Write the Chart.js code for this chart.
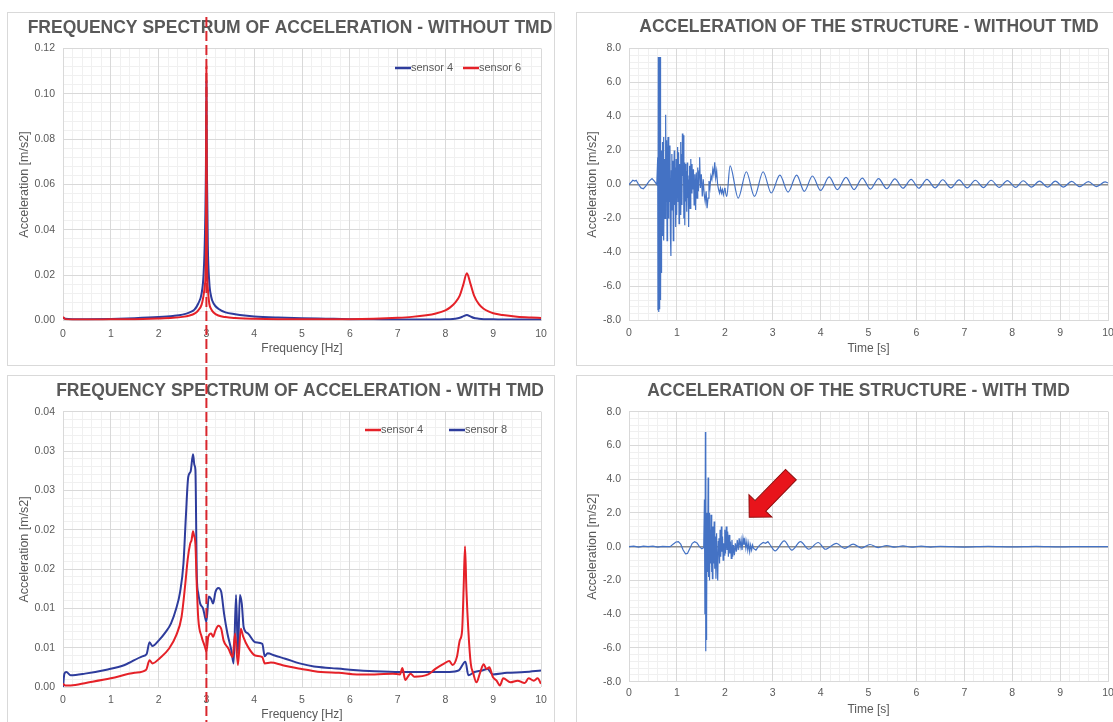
<!DOCTYPE html>
<html>
<head>
<meta charset="utf-8">
<script src="https://cdn.jsdelivr.net/npm/chart.js@4.4.1/dist/chart.umd.min.js"></script>
<style>
  html, body { margin: 0; padding: 0; background: #fff; overflow: hidden; }
  body { width: 1113px; height: 722px; position: relative; }
  .panel { position: absolute; border: 1px solid #d9d9d9; box-sizing: border-box; }
  canvas { position: absolute; }
</style>
</head>
<body>
<div class="panel" style="left:7px;top:12px;width:548px;height:354px"></div>
<div class="panel" style="left:576px;top:12px;width:560px;height:354px"></div>
<div class="panel" style="left:7px;top:375px;width:548px;height:360px"></div>
<div class="panel" style="left:576px;top:375px;width:560px;height:360px"></div>
<canvas id="specNoTmd" style="left:7px;top:12px" width="566" height="358"></canvas>
<canvas id="accNoTmd" style="left:576px;top:12px" width="586" height="354"></canvas>
<canvas id="specTmd" style="left:7px;top:370px" width="586" height="352"></canvas>
<canvas id="accTmd" style="left:576px;top:376px" width="565" height="346"></canvas>
<script>
// Frequency spectrum - without TMD
const freqNoTmd = [0, 0.05, 0.2, 0.5, 1.0, 1.5, 2.0, 2.3, 2.5, 2.65,
  2.75, 2.83, 2.9, 2.94, 2.97, 2.99, 3.0, 3.01, 3.03, 3.06,
  3.1, 3.15, 3.25, 3.4, 3.6, 3.8, 4.0, 4.5, 5.0, 5.5,
  6.0, 6.5, 7.0, 7.3, 7.6, 7.8, 8.0, 8.1, 8.2, 8.3,
  8.37, 8.45, 8.52, 8.6, 8.7, 8.8, 8.9, 9.0, 9.2, 9.5,
  9.8, 10];
const sensor4NoTmd = [0.0012, 0.0008, 0.0006, 0.0006, 0.0007, 0.001, 0.0015, 0.002, 0.0026, 0.0036,
  0.0048, 0.0075, 0.012, 0.02, 0.038, 0.068, 0.1055, 0.068, 0.033, 0.017,
  0.0105, 0.0075, 0.0052, 0.0036, 0.0028, 0.0022, 0.0018, 0.0013, 0.001, 0.0008,
  0.0006, 0.0005, 0.0004, 0.0004, 0.0004, 0.0004, 0.0005, 0.0006, 0.0008, 0.0012,
  0.0018, 0.0024, 0.0018, 0.0011, 0.0008, 0.0006, 0.0005, 0.0005, 0.0004, 0.0004,
  0.0004, 0.0004];
const sensor6NoTmd = [0.0015, 0.0006, 0.0004, 0.0004, 0.0005, 0.0006, 0.0009, 0.0012, 0.0016, 0.0022,
  0.003, 0.0045, 0.007, 0.011, 0.016, 0.03, 0.112, 0.03, 0.014, 0.0075,
  0.005, 0.0035, 0.0022, 0.0015, 0.0011, 0.0009, 0.0008, 0.0006, 0.0005, 0.0005,
  0.0006, 0.0008, 0.0012, 0.0016, 0.0023, 0.0031, 0.0045, 0.0058, 0.0078, 0.011,
  0.0155, 0.0208, 0.0165, 0.011, 0.0072, 0.0052, 0.004, 0.0032, 0.0024, 0.0017,
  0.0013, 0.0011];

// Frequency spectrum - with TMD
const freqTmdS4 = [0, 0.05, 0.16, 0.5, 1.0, 1.5, 1.74, 1.81, 1.87, 2.03,
  2.22, 2.37, 2.48, 2.56, 2.61, 2.66, 2.69, 2.72, 2.74, 2.77,
  2.8, 2.83, 2.9, 2.97, 3.0, 3.04, 3.1, 3.14, 3.19, 3.25,
  3.31, 3.36, 3.46, 3.55, 3.6, 3.66, 3.72, 3.77, 3.87, 4.02,
  4.17, 4.22, 4.35, 4.58, 4.8, 4.99, 5.18, 5.4, 5.77, 6.15,
  6.52, 6.9, 7.05, 7.1, 7.16, 7.27, 7.35, 7.64, 7.79, 7.98,
  8.08, 8.15, 8.24, 8.3, 8.35, 8.38, 8.41, 8.44, 8.48, 8.53,
  8.58, 8.65, 8.73, 8.8, 8.86, 8.92, 8.99, 9.07, 9.14, 9.21,
  9.36, 9.51, 9.66, 9.74, 9.85, 9.93, 10];
const sensor4Tmd = [0.0004, 0.0002, 0.0002, 0.00055, 0.0011, 0.0018, 0.0022, 0.0034, 0.003, 0.0037,
  0.0049, 0.0066, 0.0089, 0.0132, 0.0163, 0.0182, 0.0187, 0.0198, 0.0193, 0.0182,
  0.0127, 0.0087, 0.0064, 0.0051, 0.0045, 0.0064, 0.0068, 0.0064, 0.0072, 0.0078,
  0.0074, 0.0059, 0.0049, 0.0038, 0.0068, 0.0028, 0.0074, 0.0064, 0.0051, 0.004,
  0.0038, 0.003, 0.0031, 0.0028, 0.0025, 0.0023, 0.0021, 0.0019, 0.0018, 0.0016,
  0.0016, 0.0017, 0.0016, 0.0024, 0.0009, 0.0017, 0.0013, 0.0016, 0.0023, 0.003,
  0.0033, 0.0028, 0.0038, 0.0059, 0.0072, 0.0123, 0.0179, 0.0123, 0.0072, 0.003,
  0.0018, 0.0006, 0.0019, 0.0029, 0.0023, 0.0025, 0.0013, 0.0008, 0.0002, 0.0011,
  0.0006, 0.0008, 0.0005, 0.0011, 0.0008, 0.0011, 0.0004];
const freqTmdS8 = [0, 0.03, 0.07, 0.16, 0.46, 0.91, 1.29, 1.66, 1.75, 1.81,
  1.87, 2.0, 2.15, 2.26, 2.37, 2.45, 2.52, 2.57, 2.62, 2.67,
  2.72, 2.75, 2.77, 2.8, 2.83, 2.87, 2.93, 2.97, 3.0, 3.05,
  3.1, 3.14, 3.19, 3.25, 3.31, 3.37, 3.44, 3.52, 3.57, 3.62,
  3.66, 3.7, 3.74, 3.78, 3.87, 4.02, 4.17, 4.22, 4.28, 4.43,
  4.65, 4.95, 5.25, 5.62, 6.0, 6.52, 7.05, 7.64, 8.09, 8.28,
  8.39, 8.42, 8.48, 8.61, 8.77, 8.88, 8.99, 9.29, 9.66, 10];
const sensor8Tmd = [0, 0.0017, 0.0019, 0.0015, 0.0017, 0.0022, 0.0028, 0.0039, 0.0042, 0.0057,
  0.0052, 0.0059, 0.007, 0.0081, 0.01, 0.0121, 0.0157, 0.0216, 0.0267, 0.0274,
  0.0296, 0.0282, 0.0276, 0.014, 0.0119, 0.0106, 0.01, 0.0089, 0.0083, 0.0115,
  0.0112, 0.0106, 0.0121, 0.0126, 0.0121, 0.0093, 0.0068, 0.0047, 0.003, 0.0117,
  0.0042, 0.0117, 0.0106, 0.0076, 0.0068, 0.0057, 0.0055, 0.0039, 0.0043, 0.004,
  0.0036, 0.003, 0.0026, 0.0024, 0.0022, 0.002, 0.0019, 0.0019, 0.0019, 0.0021,
  0.0031, 0.0032, 0.0015, 0.0019, 0.0021, 0.0023, 0.0016, 0.0018, 0.0019, 0.0021];

// Acceleration of the structure - without TMD (impact burst, then free decay)
const timeBurstNoTmd = [0.00, 0.05, 0.08, 0.12, 0.15, 0.20, 0.25, 0.30, 0.35, 0.42,
  0.48, 0.53, 0.58, 0.600, 0.605, 0.612, 0.618, 0.625, 0.632, 0.640,
  0.648, 0.655, 0.662, 0.670, 0.676, 0.683, 0.690, 0.700, 0.710, 0.720,
  0.728, 0.740, 0.752, 0.765, 0.775, 0.785, 0.795, 0.805, 0.815, 0.825,
  0.835, 0.845, 0.855, 0.865, 0.875, 0.885, 0.895, 0.905, 0.915, 0.925,
  0.935, 0.945, 0.955, 0.965, 0.975, 0.985, 0.995, 1.005, 1.015, 1.025,
  1.035, 1.045, 1.055, 1.065, 1.075, 1.085, 1.095, 1.105, 1.115, 1.125,
  1.135, 1.145, 1.155, 1.165, 1.175, 1.185, 1.195, 1.205, 1.215, 1.225,
  1.235, 1.245, 1.255, 1.265, 1.275, 1.29, 1.30, 1.315, 1.33, 1.345,
  1.36, 1.375, 1.39, 1.405, 1.42, 1.435, 1.45, 1.465, 1.475, 1.49,
  1.51, 1.53, 1.55, 1.57, 1.59, 1.61, 1.63, 1.65, 1.67, 1.69,
  1.71, 1.73, 1.75, 1.77, 1.79, 1.81, 1.83, 1.85, 1.87, 1.89,
  1.91, 1.93, 1.95, 1.97, 2.00];
const accBurstNoTmd = [0.0, 0.15, 0.25, 0.2, 0.25, 0.0, -0.2, -0.25, -0.1, 0.2,
  0.35, 0.2, 0.0, 1.6, -7.4, 7.5, -7.5, 7.5, -7.3, 7.5,
  -5.0, 7.5, -6.8, 2.0, -5.2, 1.0, -3.0, 2.5, -1.8, 2.8,
  -3.3, 1.5, -2.0, 4.1, -1.0, 2.6, -3.3, 1.2, 2.8, -2.0,
  1.5, -1.0, 2.3, -3.0, -4.2, 0.8, 1.8, -1.5, 1.4, -3.3,
  0.5, 2.0, -1.2, 1.0, -2.5, 1.5, -1.8, 0.8, 2.2, -1.0,
  1.9, -2.3, 1.2, -0.5, 2.5, -1.8, 1.8, -1.2, 3.0, 0.5,
  2.9, -2.0, 1.3, -2.4, 1.2, -1.0, 0.8, -1.6, 1.3, -0.8,
  0.3, -2.5, 0.5, 1.1, -1.4, 1.5, -0.5, 1.2, -0.3, 0.9,
  -1.2, 0.6, -1.5, 0.7, -0.8, 1.0, -0.4, 0.8, 1.6, -0.2,
  0.6, -0.7, 0.3, -0.6, -1.0, -0.4, -1.4, -0.8, 0.2, -0.2,
  0.5, 0.3, 0.9, 0.6, 1.3, 0.4, 0.8, 0.0, -0.3, -0.5,
  -0.2, -0.5, -0.3, -0.6, -0.2];
const timeTailNoTmd = [2.00, 2.04, 2.11, 2.28, 2.45, 2.62, 2.80, 2.97, 3.15, 3.32,
  3.50, 3.66, 3.83, 4.00, 4.18, 4.35, 4.53, 4.70, 4.87, 5.04,
  5.21, 5.38, 5.55, 5.72, 5.89, 6.05, 6.22, 6.39, 6.55, 6.72,
  6.89, 7.06, 7.23, 7.40, 7.56, 7.73, 7.90, 8.07, 8.23, 8.40,
  8.57, 8.74, 8.90, 9.07, 9.24, 9.41, 9.59, 9.76, 9.94, 10.0];
const accTailNoTmd = [-0.2, -0.7, 1.1, -0.8, 0.75, -0.7, 0.75, -0.5, 0.55, -0.45,
  0.55, -0.4, 0.5, -0.35, 0.45, -0.3, 0.42, -0.3, 0.38, -0.27,
  0.35, -0.25, 0.33, -0.22, 0.3, -0.22, 0.3, -0.2, 0.28, -0.2,
  0.27, -0.2, 0.25, -0.18, 0.25, -0.17, 0.23, -0.17, 0.22, -0.15,
  0.2, -0.15, 0.2, -0.15, 0.18, -0.13, 0.17, -0.12, 0.15, 0.1];

// Acceleration of the structure - with TMD
const timeBurstTmd = [0.00, 0.10, 0.20, 0.30, 0.40, 0.50, 0.60, 0.70, 0.80, 0.86,
  0.92, 0.98, 1.03, 1.08, 1.13, 1.18, 1.22, 1.27, 1.32, 1.37,
  1.42, 1.47, 1.52, 1.56, 1.575, 1.585, 1.595, 1.600, 1.605, 1.612,
  1.620, 1.630, 1.640, 1.652, 1.662, 1.672, 1.682, 1.692, 1.702, 1.712,
  1.722, 1.732, 1.742, 1.752, 1.765, 1.778, 1.790, 1.802, 1.815, 1.828,
  1.840, 1.852, 1.865, 1.878, 1.890, 1.902, 1.915, 1.928, 1.940, 1.952,
  1.965, 1.978, 1.990, 2.000, 2.015, 2.030, 2.045, 2.060, 2.075, 2.090,
  2.105, 2.120, 2.135, 2.150, 2.165, 2.180, 2.200, 2.220, 2.240, 2.260,
  2.280, 2.300, 2.320, 2.340, 2.360, 2.380, 2.400, 2.420, 2.440, 2.460,
  2.480, 2.500, 2.520, 2.540, 2.560, 2.580, 2.600, 2.650, 2.700, 2.750,
  2.800, 2.850, 2.900, 2.950];
const accBurstTmd = [0.0, 0.03, -0.02, 0.03, 0.0, 0.03, -0.02, 0.02, 0.0, 0.0,
  0.15, 0.28, 0.3, 0.15, -0.2, -0.42, -0.4, -0.1, 0.2, 0.3,
  0.22, 0.0, -0.12, -0.05, 2.8, -4.0, 6.8, -6.2, 5.8, -5.5,
  -4.2, 2.0, -1.5, 4.1, -1.8, 2.0, -2.0, 1.0, -1.0, 1.9,
  -1.5, 0.8, -1.9, 1.2, -1.0, 1.5, -1.3, 0.6, -1.9, 0.8,
  -0.8, -2.0, 0.3, 0.5, -1.0, 1.0, -0.6, 1.2, -0.3, 0.6,
  -0.8, 0.2, -0.5, 1.0, -0.4, 1.2, -0.2, 0.9, -0.6, 0.7,
  -0.4, 0.3, -0.7, 0.4, -0.6, 0.1, -0.5, 0.2, -0.3, 0.4,
  -0.2, 0.5, 0.0, 0.4, -0.2, 0.5, 0.1, 0.4, -0.1, 0.3,
  -0.2, 0.2, -0.3, 0.1, -0.2, 0.1, -0.1, -0.2, 0.0, 0.15,
  0.25, 0.2, 0.3, 0.1];
const timeTailTmd = [2.95, 3.05, 3.24, 3.40, 3.58, 3.75, 3.95, 4.10, 4.33, 4.50,
  4.68, 4.85, 5.03, 5.20, 5.38, 5.55, 5.72, 5.90, 6.10, 6.30,
  6.50, 7.00, 7.50, 8.00, 8.50, 9.00, 9.50, 10.0];
const accTailTmd = [0.1, -0.25, 0.35, -0.2, 0.3, -0.15, 0.25, -0.15, 0.2, -0.1,
  0.15, -0.08, 0.13, -0.05, 0.07, -0.03, 0.05, -0.03, 0.03, -0.02,
  0.02, -0.02, 0.02, -0.01, 0.02, -0.01, 0.01, 0.0];

// arrow annotation (time [s], acceleration) on the "with TMD" record
const arrowFrom = [3.38, 4.27];
const arrowTo = [2.51, 1.74];

Chart.defaults.font.family = "'Liberation Sans', Arial, Helvetica, sans-serif";
Chart.defaults.color = '#595959';
Chart.defaults.animation = false;

const MAJOR = '#d9d9d9';
const MINOR = '#f0f0f0';
const BLUE = '#2e3c9c';
const RED = '#e52128';
const TRACE = '#4472c4';

function pairs(xs, ys) {
  return xs.map((x, i) => ({ x: x, y: ys[i] }));
}

function fixed(d) {
  const f = Math.pow(10, d);
  return v => (Math.round(v * f + 1e-9) / f).toFixed(d);
}

// red dashed marker at the natural frequency, runs over the whole panel
const freqMarker = {
  id: 'freqMarker',
  afterDraw(chart, args, opts) {
    const ctx = chart.ctx;
    const x = chart.scales.x.getPixelForValue(opts.value);
    ctx.save();
    ctx.strokeStyle = '#d9262d';
    ctx.lineWidth = 2;
    ctx.setLineDash([10, 4]);
    ctx.beginPath();
    ctx.moveTo(x, opts.from);
    ctx.lineTo(x, chart.height);
    ctx.stroke();
    ctx.restore();
  }
};

// legend drawn inside the plot area, like the original
const insideLegend = {
  id: 'insideLegend',
  afterDraw(chart, args, opts) {
    const ctx = chart.ctx;
    const area = chart.chartArea;
    ctx.save();
    ctx.font = "11px 'Liberation Sans', Arial, sans-serif";
    ctx.textBaseline = 'middle';
    chart.data.datasets.forEach((ds, i) => {
      const x = area.left + opts.left + i * opts.slot;
      const y = area.top + opts.top;
      ctx.strokeStyle = ds.borderColor;
      ctx.lineWidth = 2.5;
      ctx.beginPath();
      ctx.moveTo(x, y);
      ctx.lineTo(x + 16, y);
      ctx.stroke();
      ctx.fillStyle = '#595959';
      ctx.fillText(ds.label, x + 16, y);
    });
    ctx.restore();
  }
};

const arrowMark = {
  id: 'arrowMark',
  afterDatasetsDraw(chart, args, opts) {
    const ctx = chart.ctx;
    const sx = chart.scales.x, sy = chart.scales.y;
    const x0 = sx.getPixelForValue(opts.from[0]), y0 = sy.getPixelForValue(opts.from[1]);
    const x1 = sx.getPixelForValue(opts.to[0]), y1 = sy.getPixelForValue(opts.to[1]);
    const len = Math.hypot(x1 - x0, y1 - y0);
    const head = 16, half = 16, shaft = 7.5;
    ctx.save();
    ctx.translate(x0, y0);
    ctx.rotate(Math.atan2(y1 - y0, x1 - x0));
    ctx.beginPath();
    ctx.moveTo(0, -shaft);
    ctx.lineTo(len - head, -shaft);
    ctx.lineTo(len - head, -half);
    ctx.lineTo(len, 0);
    ctx.lineTo(len - head, half);
    ctx.lineTo(len - head, shaft);
    ctx.lineTo(0, shaft);
    ctx.closePath();
    ctx.fillStyle = '#e8141b';
    ctx.fill();
    ctx.strokeStyle = '#8e0c0c';
    ctx.lineWidth = 1;
    ctx.stroke();
    ctx.restore();
  }
};

function buildScales(p) {
  return {
    xMinor: {
      type: 'linear', position: 'bottom', min: 0, max: 10,
      ticks: { display: false, stepSize: 0.2, maxTicksLimit: 1000 },
      grid: { color: MINOR, drawTicks: false, z: -2 },
      border: { display: false },
      afterFit: s => { s.height = 0; }
    },
    yMinor: {
      type: 'linear', position: 'left', min: p.yMin, max: p.yMax,
      ticks: { display: false, stepSize: p.yStep / 5, maxTicksLimit: 1000 },
      grid: { color: MINOR, drawTicks: false, z: -2 },
      border: { display: false },
      afterFit: s => { s.width = 0; }
    },
    x: {
      type: 'linear', position: 'bottom', min: 0, max: 10,
      ticks: { stepSize: 1, autoSkip: false, maxRotation: 0, padding: p.xTickPad, font: { size: 10.5 } },
      grid: { color: MAJOR, drawTicks: false },
      border: { display: false },
      title: { display: true, text: p.xTitle, font: { size: 12 }, padding: { top: 0, bottom: p.xTitlePad } },
      afterFit: s => { s.height = p.xHeight; }
    },
    y: {
      type: 'linear', position: 'left', min: p.yMin, max: p.yMax,
      ticks: { stepSize: p.yStep, autoSkip: false, padding: 8, font: { size: 10.5 }, callback: fixed(p.dec) },
      grid: {
        drawTicks: false,
        color: ctx => (p.zeroLine && ctx.tick && Math.abs(ctx.tick.value) < 1e-9) ? '#8c8c8c' : MAJOR,
        lineWidth: ctx => (p.zeroLine && ctx.tick && Math.abs(ctx.tick.value) < 1e-9) ? 1.4 : 1
      },
      border: { display: false },
      title: { display: true, text: 'Acceleration [m/s2]', font: { size: 12.5 }, padding: { top: p.yTitlePad, bottom: 0 } },
      afterFit: s => { s.width = p.yWidth; }
    },
    pad: {
      type: 'linear', position: 'right', min: 0, max: 1,
      ticks: { display: false },
      grid: { display: false },
      border: { display: false },
      afterFit: s => { s.width = p.padRight; }
    }
  };
}

function titleOpts(text, top, bottom) {
  return {
    display: true, text: text, color: '#595959',
    font: { size: 17.5, weight: 'bold' },
    padding: { top: top, bottom: bottom }
  };
}

function specLine(label, xs, ys, color, order) {
  return {
    label: label, data: pairs(xs, ys), xAxisID: 'x', yAxisID: 'y',
    borderColor: color, backgroundColor: color, borderWidth: 2,
    pointRadius: 0, cubicInterpolationMode: 'monotone', order: order
  };
}

function traceLine(xs, ys, smooth) {
  return {
    label: '', data: pairs(xs, ys), xAxisID: 'x', yAxisID: 'y',
    borderColor: TRACE, borderWidth: 1.2, pointRadius: 0,
    tension: 0, cubicInterpolationMode: smooth ? 'monotone' : 'default'
  };
}

// top left
new Chart(document.getElementById('specNoTmd'), {
  type: 'line',
  data: {
    datasets: [
      specLine('sensor 4', freqNoTmd, sensor4NoTmd, BLUE, 1),
      specLine('sensor 6', freqNoTmd, sensor6NoTmd, RED, 0)
    ]
  },
  options: {
    responsive: false,
    layout: { padding: 0 },
    scales: buildScales({ yMin: 0, yMax: 0.12, yStep: 0.02, dec: 2, xTitle: 'Frequency [Hz]',
      xTickPad: 7, xTitlePad: 13.8, xHeight: 49.5, yWidth: 56, yTitlePad: 10.5, padRight: 32 }),
    plugins: {
      title: titleOpts('FREQUENCY SPECTRUM OF ACCELERATION - WITHOUT TMD', 6, 9.5),
      legend: { display: false },
      tooltip: { enabled: false },
      insideLegend: { left: 332, top: 19.5, slot: 68 },
      freqMarker: { value: 3, from: 5 }
    }
  },
  plugins: [insideLegend, freqMarker]
});

// top right
new Chart(document.getElementById('accNoTmd'), {
  type: 'line',
  data: {
    datasets: [
      traceLine(timeBurstNoTmd, accBurstNoTmd, false),
      traceLine(timeTailNoTmd, accTailNoTmd, true)
    ]
  },
  options: {
    responsive: false,
    layout: { padding: 0 },
    scales: buildScales({ yMin: -8, yMax: 8, yStep: 2, dec: 1, zeroLine: true, xTitle: 'Time [s]',
      xTickPad: 6.5, xTitlePad: 9.8, xHeight: 45.5, yWidth: 53, yTitlePad: 9, padRight: 54 }),
    plugins: {
      title: titleOpts('ACCELERATION OF THE STRUCTURE - WITHOUT TMD', 5, 10.5),
      legend: { display: false },
      tooltip: { enabled: false }
    }
  }
});

// bottom left
new Chart(document.getElementById('specTmd'), {
  type: 'line',
  data: {
    datasets: [
      specLine('sensor 4', freqTmdS4, sensor4Tmd, RED, 0),
      specLine('sensor 8', freqTmdS8, sensor8Tmd, BLUE, 1)
    ]
  },
  options: {
    responsive: false,
    layout: { padding: 0 },
    scales: buildScales({ yMin: 0, yMax: 0.035, yStep: 0.005, dec: 2, xTitle: 'Frequency [Hz]',
      xTickPad: 6.7, xTitlePad: 0, xHeight: 35, yWidth: 56, yTitlePad: 10.5, padRight: 52 }),
    plugins: {
      title: titleOpts('FREQUENCY SPECTRUM OF ACCELERATION - WITH TMD', 10.2, 10.5),
      legend: { display: false },
      tooltip: { enabled: false },
      insideLegend: { left: 302, top: 18.3, slot: 84 },
      freqMarker: { value: 3, from: 0 }
    }
  },
  plugins: [insideLegend, freqMarker]
});

// bottom right
new Chart(document.getElementById('accTmd'), {
  type: 'line',
  data: {
    datasets: [
      traceLine(timeBurstTmd, accBurstTmd, false),
      traceLine(timeTailTmd, accTailTmd, true)
    ]
  },
  options: {
    responsive: false,
    layout: { padding: 0 },
    scales: buildScales({ yMin: -8, yMax: 8, yStep: 2, dec: 1, zeroLine: true, xTitle: 'Time [s]',
      xTickPad: 5.3, xTitlePad: 4.8, xHeight: 40.3, yWidth: 53, yTitlePad: 9, padRight: 33 }),
    plugins: {
      title: titleOpts('ACCELERATION OF THE STRUCTURE - WITH TMD', 4.2, 10.5),
      legend: { display: false },
      tooltip: { enabled: false },
      arrowMark: { from: arrowFrom, to: arrowTo }
    }
  },
  plugins: [arrowMark]
});
</script>
</body>
</html>
